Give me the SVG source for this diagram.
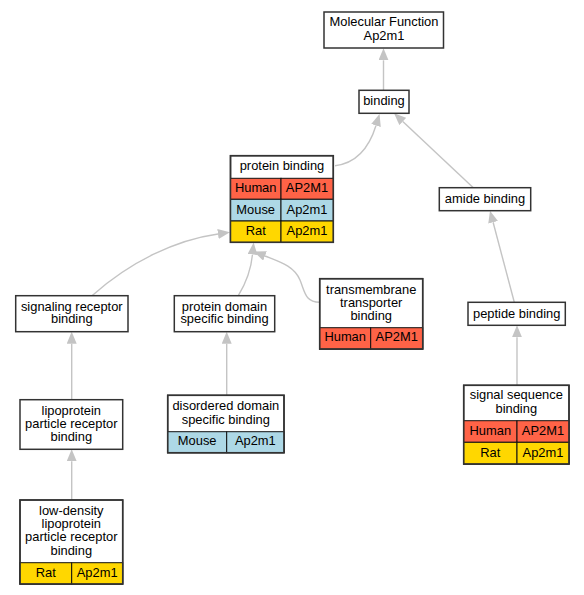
<svg xmlns="http://www.w3.org/2000/svg" width="584" height="595" viewBox="0 0 584 595">
<style>
text{font-family:"Liberation Sans",Arial,sans-serif;font-size:12.9px;fill:#000;text-anchor:middle}
.box{fill:#fff;stroke:#333;stroke-width:1.5}
.frame{fill:none;stroke:#333;stroke-width:1.5}
.cell{stroke:#111;stroke-width:1}
.hu{fill:#ff6347}
.mo{fill:#add8e6}
.ra{fill:#ffd700}
.edge{fill:none;stroke:#c4c4c4;stroke-width:1.4;marker-end:url(#arr)}
</style>
<defs>
<marker id="arr" viewBox="0 0 12 10" refX="0" refY="5" markerWidth="12" markerHeight="10" markerUnits="userSpaceOnUse" orient="auto">
<path d="M0,0 L12,5 L0,10 z" fill="#c4c4c4"/>
</marker>
</defs>
<rect width="584" height="595" fill="#fff"/>
<g id="connectors">
<path class="edge" d="M383.5,90.3 L383.5,60.3"/>
<path class="edge" d="M335,165.7 C358,163 370,145 376,125.5"/>
<path class="edge" d="M473.3,187.7 L402.8,121.5"/>
<path class="edge" d="M514.3,302.3 L493.1,222.3"/>
<path class="edge" d="M517,385.3 L517,337.3"/>
<path class="edge" d="M92,295.7 C130,262 175,240 218,234"/>
<path class="edge" d="M238.3,295.7 C246,283 251,270 252.5,254.5"/>
<path class="edge" d="M319.7,302.3 C305,302 305,292 300,280 C294,266 280,262 265,256"/>
<path class="edge" d="M226.7,395.3 L226.7,343.7"/>
<path class="edge" d="M71.7,500 L71.7,461.3"/>
<path class="edge" d="M71.7,399.7 L71.7,343.7"/>
</g>
<g id="mf">
<rect class="box" x="324" y="12" width="119.5" height="36"/>
<text x="384" y="26.2">Molecular Function</text>
<text x="384" y="39.6">Ap2m1</text>
</g>
<g id="binding">
<rect class="box" x="359" y="90.3" width="50" height="23"/>
<text x="384" y="105.2">binding</text>
</g>
<g id="protein_binding">
<rect class="box" x="230.5" y="155.7" width="102.8" height="86.6"/>
<rect class="cell hu" x="230.5" y="178.3" width="50.5" height="21"/>
<rect class="cell hu" x="281" y="178.3" width="52.3" height="21"/>
<rect class="cell mo" x="230.5" y="199.3" width="50.5" height="21.7"/>
<rect class="cell mo" x="281" y="199.3" width="52.3" height="21.7"/>
<rect class="cell ra" x="230.5" y="221" width="50.5" height="21.3"/>
<rect class="cell ra" x="281" y="221" width="52.3" height="21.3"/>
<rect class="frame" x="230.5" y="155.7" width="102.8" height="86.6"/>
<text x="282" y="170.2">protein binding</text>
<text x="255.7" y="192.2">Human</text><text x="307" y="192.2">AP2M1</text>
<text x="255.7" y="213.6">Mouse</text><text x="307" y="213.6">Ap2m1</text>
<text x="255.7" y="234.9">Rat</text><text x="307" y="234.9">Ap2m1</text>
</g>
<g id="amide_binding">
<rect class="box" x="439.3" y="187.7" width="91.4" height="23"/>
<text x="485" y="202.5">amide binding</text>
</g>
<g id="signaling_receptor_binding">
<rect class="box" x="15.7" y="295.7" width="112.3" height="36"/>
<text x="71.8" y="310.5">signaling receptor</text>
<text x="71.8" y="323.2">binding</text>
</g>
<g id="protein_domain_specific_binding">
<rect class="box" x="174.3" y="295.7" width="100.4" height="36"/>
<text x="224.5" y="310.5">protein domain</text>
<text x="224.5" y="323.2">specific binding</text>
</g>
<g id="transmembrane_transporter_binding">
<rect class="box" x="319.7" y="278.7" width="103" height="70.3"/>
<rect class="cell hu" x="319.7" y="327.7" width="51" height="21.3"/>
<rect class="cell hu" x="370.7" y="327.7" width="52" height="21.3"/>
<rect class="frame" x="319.7" y="278.7" width="103" height="70.3"/>
<text x="371.2" y="293.5">transmembrane</text>
<text x="371.2" y="306.5">transporter</text>
<text x="371.2" y="319.5">binding</text>
<text x="345.2" y="341.4">Human</text><text x="396.7" y="341.4">AP2M1</text>
</g>
<g id="peptide_binding">
<rect class="box" x="468" y="302.3" width="97.3" height="23"/>
<text x="516.7" y="317.9">peptide binding</text>
</g>
<g id="lipoprotein_particle_receptor_binding">
<rect class="box" x="20" y="399.7" width="102.7" height="49.6"/>
<text x="71.3" y="414.5">lipoprotein</text>
<text x="71.3" y="427.7">particle receptor</text>
<text x="71.3" y="441">binding</text>
</g>
<g id="disordered_domain_specific_binding">
<rect class="box" x="167.7" y="395.3" width="116.3" height="57.4"/>
<rect class="cell mo" x="167.7" y="431.7" width="59" height="21"/>
<rect class="cell mo" x="226.7" y="431.7" width="57.3" height="21"/>
<rect class="frame" x="167.7" y="395.3" width="116.3" height="57.4"/>
<text x="225.8" y="410.2">disordered domain</text>
<text x="225.8" y="423.5">specific binding</text>
<text x="197.2" y="445.2">Mouse</text><text x="255.3" y="445.2">Ap2m1</text>
</g>
<g id="signal_sequence_binding">
<rect class="box" x="463.7" y="385.3" width="105.3" height="78.7"/>
<rect class="cell hu" x="463.7" y="420.7" width="53.3" height="21.6"/>
<rect class="cell hu" x="517" y="420.7" width="52" height="21.6"/>
<rect class="cell ra" x="463.7" y="442.3" width="53.3" height="21.7"/>
<rect class="cell ra" x="517" y="442.3" width="52" height="21.7"/>
<rect class="frame" x="463.7" y="385.3" width="105.3" height="78.7"/>
<text x="516.3" y="399.2">signal sequence</text>
<text x="516.3" y="412.8">binding</text>
<text x="490.3" y="435.2">Human</text><text x="543" y="435.2">AP2M1</text>
<text x="490.3" y="456.7">Rat</text><text x="543" y="456.7">Ap2m1</text>
</g>
<g id="low_density_lipoprotein_particle_receptor_binding">
<rect class="box" x="20" y="500" width="102.7" height="84"/>
<rect class="cell ra" x="20" y="562.7" width="51.7" height="21.3"/>
<rect class="cell ra" x="71.7" y="562.7" width="51" height="21.3"/>
<rect class="frame" x="20" y="500" width="102.7" height="84"/>
<text x="71.3" y="514.5">low-density</text>
<text x="71.3" y="527.8">lipoprotein</text>
<text x="71.3" y="541.2">particle receptor</text>
<text x="71.3" y="554.5">binding</text>
<text x="45.8" y="576.5">Rat</text><text x="97.2" y="576.5">Ap2m1</text>
</g>
</svg>
